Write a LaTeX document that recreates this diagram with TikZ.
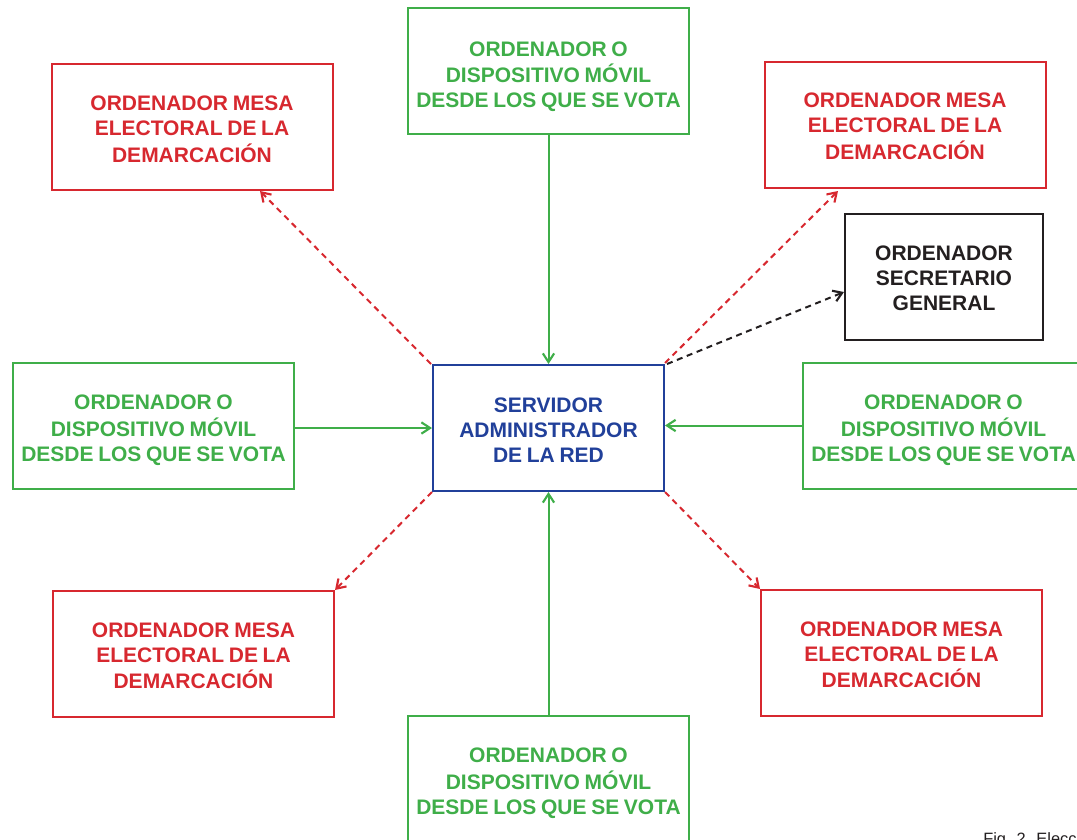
\documentclass[tikz,border=0pt]{standalone}
\usepackage{fontspec}
\setmainfont[WordSpace=0.8]{Liberation Sans}
\newfontfamily\capfont{Liberation Sans}
\usetikzlibrary{arrows.meta}
\definecolor{cgreen}{HTML}{3FAE49}
\definecolor{cred}{HTML}{D7282F}
\definecolor{cblue}{HTML}{21409A}
\definecolor{cblack}{HTML}{231F20}
\newcommand\lowered[2]{\raisebox{-#1pt}[\height][\depth]{\begin{tabular}{@{}c@{}}#2\end{tabular}}}
\tikzset{
  x=0.75pt,y=-0.75pt,
  boxbase/.style={draw,line width=1.5pt,align=center,inner sep=0pt,minimum width=210.75pt,minimum height=94.5pt,font=\fontsize{15.75}{18.75}\selectfont\bfseries,anchor=center},
  gbox/.style={boxbase,draw=cgreen,text=cgreen},
  rbox/.style={boxbase,draw=cred,text=cred},
  sline/.style={line width=1.5pt,-{Straight Barb[length=6.5pt,width=8.5pt,line width=1.6pt]}},
  gline/.style={sline,cgreen},
  rline/.style={sline,cred,dash pattern=on 4.5pt off 3.5pt},
  kline/.style={sline,cblack,dash pattern=on 4.5pt off 3.5pt},
}
\begin{document}
\begin{tikzpicture}
\useasboundingbox (0,0) rectangle (1077,839);
\clip (0,0) rectangle (1077,839);
\node[gbox] (gt) at (548.5,71) {\lowered{4.5}{ORDENADOR O\\DISPOSITIVO MÓVIL\\DESDE LOS QUE SE VOTA}};
\node[gbox] (gl) at (153.5,425.5) {\lowered{3.75}{ORDENADOR O\\DISPOSITIVO MÓVIL\\DESDE LOS QUE SE VOTA}};
\node[gbox] (gr) at (943.5,425.5) {\lowered{3.75}{ORDENADOR O\\DISPOSITIVO MÓVIL\\DESDE LOS QUE SE VOTA}};
\node[gbox] (gb) at (548.5,778.5) {\lowered{3.75}{ORDENADOR O\\DISPOSITIVO MÓVIL\\DESDE LOS QUE SE VOTA}};
\node[rbox] (rtl) at (192,126.5) {\lowered{3.75}{ORDENADOR MESA\\ELECTORAL DE LA\\DEMARCACIÓN}};
\node[rbox] (rtr) at (905,124.5) {\lowered{3}{ORDENADOR MESA\\ELECTORAL DE LA\\DEMARCACIÓN}};
\node[rbox] (rbl) at (193.5,653.5) {\lowered{3.4}{ORDENADOR MESA\\ELECTORAL DE LA\\DEMARCACIÓN}};
\node[rbox] (rbr) at (901.5,652.5) {\lowered{3.4}{ORDENADOR MESA\\ELECTORAL DE LA\\DEMARCACIÓN}};
\node[boxbase,draw=cblack,text=cblack,minimum width=148.5pt] (sec) at (944,276.5) {\lowered{3}{ORDENADOR\\SECRETARIO\\GENERAL}};
\node[boxbase,draw=cblue,text=cblue,minimum width=173.25pt] (srv) at (548.5,428) {\lowered{3}{SERVIDOR\\ADMINISTRADOR\\DE LA RED}};
\node[anchor=base west,inner sep=0pt,text=cblack,font=\capfont\fontsize{12.3}{14}\selectfont] (cap) at (983,844) {Fig. 2. Elecc};
\coordinate (srvTL) at (431,364);
\coordinate (srvTR) at (665,363);
\coordinate (srvTRb) at (667,364);
\coordinate (srvBL) at (432,492);
\coordinate (srvBR) at (665,492);
\coordinate (tipTL) at (260,191);
\coordinate (tipTR) at (838,191);
\coordinate (tipBL) at (335,590);
\coordinate (tipBR) at (760,589);
\coordinate (tipSec) at (844,292);
\draw[gline] (gt.south) -- (gt.south |- srv.north);
\draw[gline] (gb.north) -- (gb.north |- srv.south);
\draw[gline] (gl.east |- 0,428) -- (srv.west |- 0,428);
\draw[gline] (gr.west) -- (srv.east |- gr.west);
\draw[rline] (srvTL) -- (tipTL);
\draw[rline] (srvTR) -- (tipTR);
\draw[rline] (srvBL) -- (tipBL);
\draw[rline] (srvBR) -- (tipBR);
\draw[kline] (srvTRb) -- (tipSec);
\end{tikzpicture}
\end{document}
